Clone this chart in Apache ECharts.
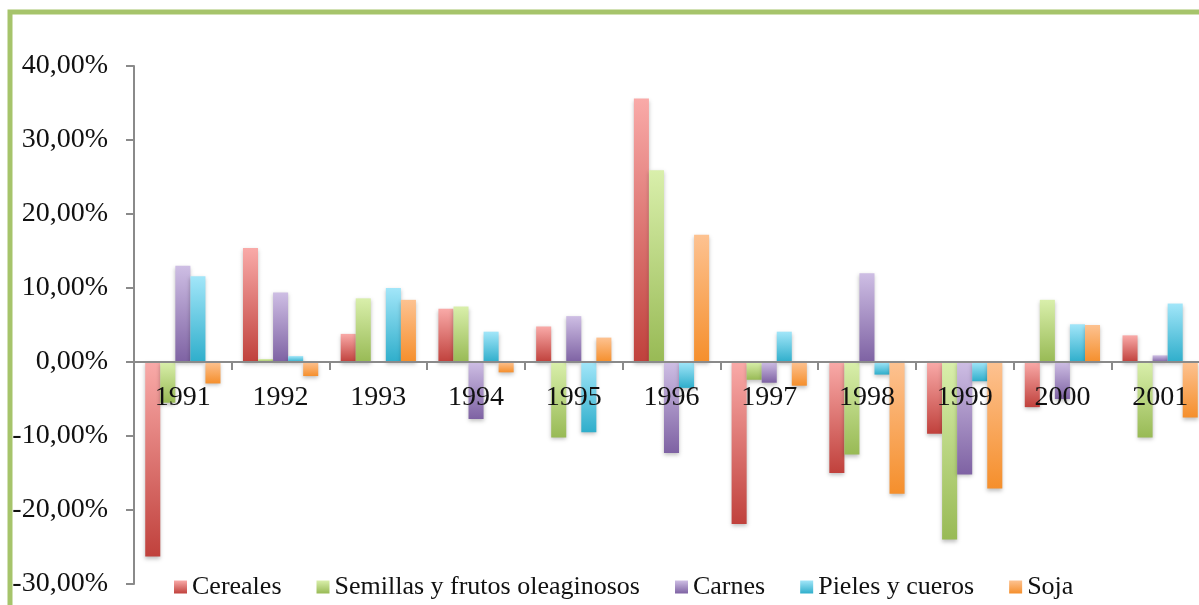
<!DOCTYPE html>
<html>
<head>
<meta charset="utf-8">
<script src="https://cdn.jsdelivr.net/npm/echarts@6/dist/echarts.min.js"></script>
<style>
  html, body { margin: 0; padding: 0; background: #fff; }
  #chart { width: 1199px; height: 605px; }
</style>
</head>
<body>
<div id="chart"></div>
<script>
const years = ['1991', '1992', '1993', '1994', '1995', '1996', '1997', '1998', '1999', '2000', '2001']
const seriesNames = ['Cereales', 'Semillas y frutos oleaginosos', 'Carnes', 'Pieles y cueros', 'Soja']

// variación anual (%)
const cereales = [-26.3, 15.4, 3.8, 7.2, 4.8, 35.6, -21.9, -15.0, -9.7, -6.1, 3.6]
const semillas = [-5.5, 0.4, 8.6, 7.5, -10.2, 25.9, -2.4, -12.5, -24.0, 8.4, -10.2]
const carnes = [13.0, 9.4, 0, -7.7, 6.2, -12.3, -2.8, 12.0, -15.2, -5.0, 0.9]
const pieles = [11.6, 0.8, 10.0, 4.1, -9.5, -3.5, 4.1, -1.7, -2.6, 5.1, 7.9]
const soja = [-2.9, -1.9, 8.4, -1.4, 3.3, 17.2, -3.2, -17.8, -17.1, 5.0, -7.5]

const yTicks = [-30, -20, -10, 0, 10, 20, 30, 40]

// colores: [arriba, abajo]
const gradients = [
  ['#F9AAA8', '#C0413C'],
  ['#D9EFAB', '#98BA55'],
  ['#CEBEE4', '#7E62A3'],
  ['#A2E6F9', '#2FAECB'],
  ['#FDC291', '#F58F2C']
]

const font = 'Liberation Serif'

const gridTop = 66
const gridHeight = 518
const yMin = yTicks[0]
const yMax = yTicks[yTicks.length - 1]
// eje de categorías sobre el cero
const zeroOffset = -gridHeight * (0 - yMin) / (yMax - yMin)

function grad(c) {
  return new echarts.graphic.LinearGradient(0, 0, 0, 1, [
    { offset: 0, color: c[0] },
    { offset: 1, color: c[1] }
  ])
}

const allData = [cereales, semillas, carnes, pieles, soja]

const option = {
  animation: false,
  backgroundColor: '#fff',
  graphic: [
    {
      type: 'rect',
      left: 7.5,
      top: 9.5,
      shape: { width: 1400, height: 800 },
      style: { fill: 'none', stroke: '#A6C46B', lineWidth: 5 },
      silent: true
    }
  ],
  legend: {
    left: 169,
    top: 569,
    itemWidth: 13,
    itemHeight: 13,
    itemGap: 35,
    icon: 'rect',
    itemStyle: { shadowBlur: 0, shadowOffsetY: 0 },
    textStyle: { fontFamily: font, fontSize: 26, color: '#111' },
    data: seriesNames
  },
  grid: {
    left: 134,
    top: gridTop,
    width: 1075,
    height: gridHeight,
    containLabel: false,
    outerBoundsMode: 'none'
  },
  xAxis: {
    type: 'category',
    data: years,
    position: 'bottom',
    offset: zeroOffset,
    z: 5,
    axisLine: { onZero: false, lineStyle: { color: '#8A8A8A', width: 2 } },
    axisTick: { show: true, inside: false, length: 8, lineStyle: { color: '#8A8A8A', width: 2 } },
    axisLabel: { margin: 22, fontFamily: font, fontSize: 28, color: '#111' },
    splitLine: { show: false }
  },
  yAxis: {
    type: 'value',
    min: yMin,
    max: yMax,
    interval: 10,
    axisLine: { show: true, lineStyle: { color: '#8A8A8A', width: 2 } },
    axisTick: { show: true, length: 8, lineStyle: { color: '#8A8A8A', width: 2 } },
    axisLabel: {
      margin: 26,
      fontFamily: font,
      fontSize: 28,
      color: '#111',
      formatter: v => v.toFixed(2).replace('.', ',') + '%'
    },
    splitLine: { show: false }
  },
  series: seriesNames.map((name, i) => ({
    name: name,
    type: 'bar',
    data: allData[i],
    barGap: '0%',
    barCategoryGap: '23%',
    itemStyle: {
      color: grad(gradients[i]),
      shadowColor: 'rgba(0,0,0,0.25)',
      shadowBlur: 4,
      shadowOffsetY: 2
    }
  }))
}

const chart = echarts.init(document.getElementById('chart'))
chart.setOption(option)
</script>
</body>
</html>
